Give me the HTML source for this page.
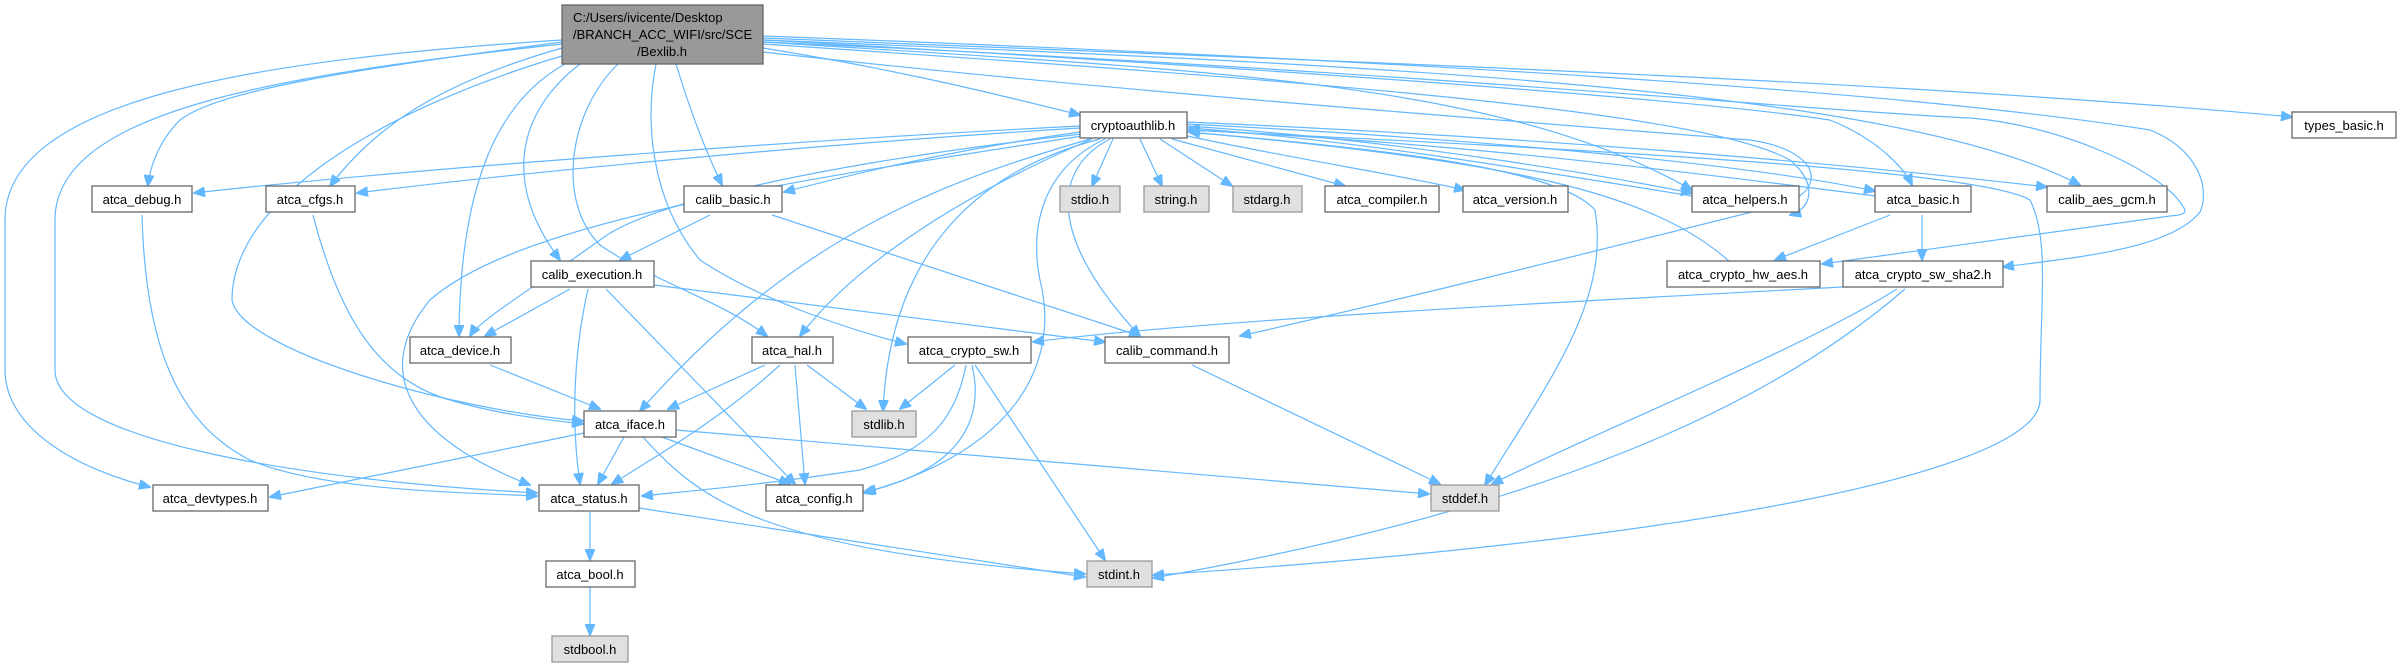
<!DOCTYPE html>
<html><head><meta charset="utf-8"><style>
html,body{margin:0;padding:0;background:#fff;}
svg{display:block;}
text{font-family:"Liberation Sans",Arial,sans-serif;font-size:13px;fill:#000;}
.e{fill:none;stroke:#63b8ff;stroke-width:1.2;}
.n{fill:#fff;stroke:#666;stroke-width:1.3;}
.g{fill:#e0e0e0;stroke:#999;stroke-width:1.3;}
</style></head><body>
<svg width="2397" height="667" viewBox="0 0 2397 667" xmlns="http://www.w3.org/2000/svg">
<defs>
<marker id="a" markerWidth="12" markerHeight="10" refX="11" refY="5" orient="auto" markerUnits="userSpaceOnUse">
<path d="M0,0 L12,5 L0,10 z" fill="#63b8ff" stroke="#63b8ff"/></marker>
</defs>
<g marker-end="url(#a)">
<!-- root edges -->
<path class="e" d="M763,48 C900,70 1000,95 1080,115"/>
<path class="e" d="M763,38 C1300,60 1900,80 2292,117"/>
<path class="e" d="M562,42 C350,70 220,90 180,120 C160,140 150,165 148,186"/>
<path class="e" d="M562,48 C450,80 380,120 330,186"/>
<path class="e" d="M562,40 C250,60 5,100 5,220 L5,370 C5,430 80,470 150,487"/>
<path class="e" d="M562,44 C280,75 55,110 55,220 L55,370 C55,440 300,480 537,493"/>
<path class="e" d="M562,56 C380,110 232,200 232,300 C240,350 450,410 583,421"/>
<path class="e" d="M565,64 C500,100 460,180 459,336"/>
<path class="e" d="M580,64 C520,110 500,180 560,260"/>
<path class="e" d="M618,64 C570,110 555,200 600,245 C650,280 720,300 767,336"/>
<path class="e" d="M676,64 C690,110 705,150 722,185"/>
<path class="e" d="M656,64 C645,120 650,200 700,260 C760,300 850,330 906,344"/>
<path class="e" d="M763,52 C1100,90 1500,120 1750,140 C1820,150 1830,190 1780,205 C1600,250 1400,300 1240,336"/>
<path class="e" d="M763,44 C1300,80 1700,110 1790,160 C1820,185 1810,210 1790,215"/>
<path class="e" d="M763,40 C1300,70 1700,100 1830,120 C1880,140 1905,170 1912,185"/>
<path class="e" d="M763,40 C1400,65 1900,90 2080,185"/>
<path class="e" d="M763,42 C1400,70 1800,110 1970,118 C2060,125 2160,170 2182,205 C2190,215 2180,215 2170,216 L1822,264"/>
<path class="e" d="M763,36 C1400,60 1900,90 2150,130 C2200,150 2210,190 2200,212 C2170,250 2070,258 2003,267"/>
<path class="e" d="M763,42 C1200,70 1500,80 1692,190"/>
<!-- cryptoauthlib edges -->
<path class="e" d="M1113,139 L1092,186"/>
<path class="e" d="M1140,139 L1162,186"/>
<path class="e" d="M1160,139 L1232,186"/>
<path class="e" d="M1172,139 L1345,186"/>
<path class="e" d="M1187,136 C1300,160 1400,175 1465,190"/>
<path class="e" d="M1080,126 C800,140 400,170 194,193"/>
<path class="e" d="M1080,128 C800,145 500,175 357,193"/>
<path class="e" d="M1080,132 C950,150 850,175 784,192"/>
<path class="e" d="M1082,134 C850,160 650,200 600,240 C530,290 480,320 470,336"/>
<path class="e" d="M1082,136 C800,180 520,220 430,300 C380,360 390,430 530,485"/>
<path class="e" d="M1090,139 C950,180 800,230 640,411"/>
<path class="e" d="M1092,139 C950,200 850,270 800,336"/>
<path class="e" d="M1100,139 C980,170 890,250 883,411"/>
<path class="e" d="M1105,139 C1040,170 1030,230 1040,280 C1060,360 1020,450 863,493"/>
<path class="e" d="M1110,139 C1050,170 1050,240 1140,336"/>
<path class="e" d="M1187,132 C1400,150 1560,170 1595,210 C1610,300 1550,380 1485,485"/>
<path class="e" d="M1187,130 C1600,150 1980,170 2030,200 C2050,240 2040,300 2040,400 C2040,470 1700,540 1153,575"/>
<path class="e" d="M1187,126 C1400,140 1600,175 1692,193"/>
<path class="e" d="M1187,124 C1500,140 1750,165 1875,191"/>
<path class="e" d="M1187,122 C1600,140 1900,170 2047,187"/>
<!-- back edges into cryptoauthlib -->
<path class="e" d="M1692,196 C1500,165 1350,140 1189,128"/>
<path class="e" d="M1875,196 C1600,160 1400,140 1189,130"/>
<path class="e" d="M1730,262 C1650,190 1500,160 1189,132"/>
<!-- other edges -->
<path class="e" d="M142,215 C145,330 170,420 250,460 C320,490 450,492 537,496"/>
<path class="e" d="M313,215 C340,320 380,380 450,400 C500,415 550,420 583,424"/>
<path class="e" d="M710,215 L620,260"/>
<path class="e" d="M772,215 L1140,336"/>
<path class="e" d="M570,289 L485,336"/>
<path class="e" d="M588,289 C572,360 572,430 580,484"/>
<path class="e" d="M606,289 L795,484"/>
<path class="e" d="M654,285 L1105,342"/>
<path class="e" d="M490,365 L600,409"/>
<path class="e" d="M765,365 L668,409"/>
<path class="e" d="M807,365 L866,409"/>
<path class="e" d="M780,365 C720,420 650,460 612,484"/>
<path class="e" d="M795,365 L805,484"/>
<path class="e" d="M955,365 L900,409"/>
<path class="e" d="M966,365 C955,420 930,450 860,470 C760,485 700,490 642,496"/>
<path class="e" d="M972,365 C985,420 960,470 865,492"/>
<path class="e" d="M975,365 L1105,560"/>
<path class="e" d="M1192,365 L1440,484"/>
<path class="e" d="M584,433 L270,497"/>
<path class="e" d="M624,437 L598,484"/>
<path class="e" d="M662,437 L790,484"/>
<path class="e" d="M643,437 C700,500 760,550 1085,574"/>
<path class="e" d="M676,430 L1429,494"/>
<path class="e" d="M590,512 L590,560"/>
<path class="e" d="M639,508 L1085,577"/>
<path class="e" d="M590,587 L590,635"/>
<path class="e" d="M1890,215 L1775,260"/>
<path class="e" d="M1922,215 L1922,260"/>
<path class="e" d="M1897,289 C1800,350 1600,430 1492,484"/>
<path class="e" d="M1905,289 C1800,380 1600,500 1153,578"/>
<path class="e" d="M1843,287 C1600,300 1200,320 1033,342"/>
</g>
<!-- nodes -->
<rect x="562" y="5" width="201" height="59" fill="#999" stroke="#666" stroke-width="1.3"/>
<text x="573" y="22">C:/Users/ivicente/Desktop</text>
<text x="573" y="39">/BRANCH_ACC_WIFI/src/SCE</text>
<text x="662" y="56" text-anchor="middle">/Bexlib.h</text>
<g text-anchor="middle">
<rect class="n" x="1080" y="112" width="107" height="26"/><text x="1133" y="130">cryptoauthlib.h</text>
<rect class="n" x="2292" y="112" width="104" height="26"/><text x="2344" y="130">types_basic.h</text>
<rect class="n" x="92" y="186" width="100" height="26"/><text x="142" y="204">atca_debug.h</text>
<rect class="n" x="266" y="186" width="89" height="26"/><text x="310" y="204">atca_cfgs.h</text>
<rect class="n" x="684" y="186" width="98" height="26"/><text x="733" y="204">calib_basic.h</text>
<rect class="g" x="1060" y="186" width="60" height="26"/><text x="1090" y="204">stdio.h</text>
<rect class="g" x="1144" y="186" width="65" height="26"/><text x="1176" y="204">string.h</text>
<rect class="g" x="1233" y="186" width="69" height="26"/><text x="1267" y="204">stdarg.h</text>
<rect class="n" x="1325" y="186" width="114" height="26"/><text x="1382" y="204">atca_compiler.h</text>
<rect class="n" x="1463" y="186" width="105" height="26"/><text x="1515" y="204">atca_version.h</text>
<rect class="n" x="1692" y="186" width="107" height="26"/><text x="1745" y="204">atca_helpers.h</text>
<rect class="n" x="1875" y="186" width="96" height="26"/><text x="1923" y="204">atca_basic.h</text>
<rect class="n" x="2047" y="186" width="120" height="26"/><text x="2107" y="204">calib_aes_gcm.h</text>
<rect class="n" x="531" y="261" width="123" height="26"/><text x="592" y="279">calib_execution.h</text>
<rect class="n" x="1667" y="261" width="153" height="26"/><text x="1743" y="279">atca_crypto_hw_aes.h</text>
<rect class="n" x="1843" y="261" width="160" height="26"/><text x="1923" y="279">atca_crypto_sw_sha2.h</text>
<rect class="n" x="410" y="337" width="101" height="26"/><text x="460" y="355">atca_device.h</text>
<rect class="n" x="752" y="337" width="81" height="26"/><text x="792" y="355">atca_hal.h</text>
<rect class="n" x="908" y="337" width="123" height="26"/><text x="969" y="355">atca_crypto_sw.h</text>
<rect class="n" x="1105" y="337" width="124" height="26"/><text x="1167" y="355">calib_command.h</text>
<rect class="n" x="584" y="411" width="92" height="26"/><text x="630" y="429">atca_iface.h</text>
<rect class="g" x="852" y="411" width="64" height="26"/><text x="884" y="429">stdlib.h</text>
<rect class="n" x="153" y="485" width="115" height="26"/><text x="210" y="503">atca_devtypes.h</text>
<rect class="n" x="539" y="485" width="100" height="26"/><text x="589" y="503">atca_status.h</text>
<rect class="n" x="766" y="485" width="97" height="26"/><text x="814" y="503">atca_config.h</text>
<rect class="g" x="1431" y="485" width="68" height="26"/><text x="1465" y="503">stddef.h</text>
<rect class="n" x="546" y="561" width="89" height="26"/><text x="590" y="579">atca_bool.h</text>
<rect class="g" x="1087" y="561" width="65" height="26"/><text x="1119" y="579">stdint.h</text>
<rect class="g" x="552" y="636" width="76" height="26"/><text x="590" y="654">stdbool.h</text>
</g>
</svg>
</body></html>
